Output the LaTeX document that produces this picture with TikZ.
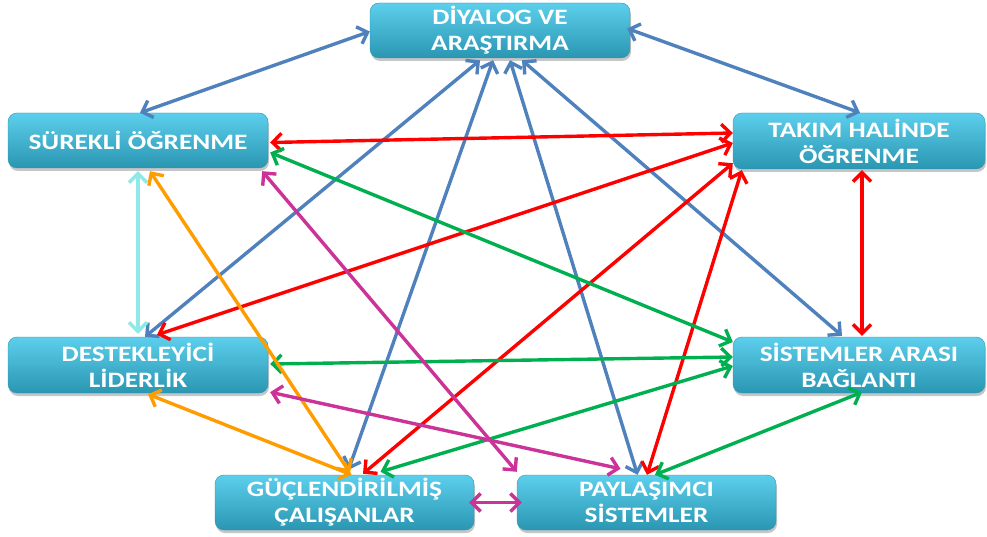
\documentclass[tikz,border=0pt]{standalone}
\usepackage{fontspec}
\setmainfont{Carlito}[FakeStretch=1.24]
\usetikzlibrary{arrows.meta,shadows,calc}
\definecolor{boxtop}{HTML}{5CCFEC}
\definecolor{boxbot}{HTML}{2A96B2}
\definecolor{lnblue}{HTML}{4F81BD}
\definecolor{lnred}{HTML}{FF0000}
\definecolor{lngreen}{HTML}{00B050}
\definecolor{lnorange}{HTML}{FF9C00}
\definecolor{lncyan}{HTML}{8FE9E9}
\definecolor{lnpink}{HTML}{CC3399}

\begin{document}
\begin{tikzpicture}[x=1pt,y=-1pt,
	>={Straight Barb[length=9pt,width=18pt]},
	box/.style={rectangle,rounded corners=9pt,top color=boxtop,bottom color=boxbot,
		draw=boxbot,line width=0.4pt,text=white,align=center,inner sep=0pt,
		minimum width=260pt,minimum height=55pt,
		font=\bfseries\fontsize{22}{26}\selectfont,
		drop shadow={opacity=0.45,shadow xshift=1pt,shadow yshift=-3pt}},
	link/.style={<->,line width=3.4pt}]
	\useasboundingbox (0,0) rectangle (987,537);
	% boxes
	\node (dia) at (500,30.5) [box] {D\.IYALOG VE\\ARAŞTIRMA};
	\node (sur) at (138,140.5) [box] {SÜREKL\.I ÖĞRENME};
	\node (tak) at (859,141) [box,minimum width=252pt,minimum height=56pt] {TAKIM HAL\.INDE\\ÖĞRENME};
	\node (des) at (138,365) [box,minimum height=56pt] {DESTEKLEY\.IC\.I\\L\.IDERL\.IK};
	\node (sis) at (859,365) [box,minimum width=252pt,minimum height=56pt] {S\.ISTEMLER ARASI\\BAĞLANTI};
	\node (guc) at (344.5,502.5) [box,minimum width=259pt] {GÜÇLEND\.IR\.ILM\.IŞ\\ÇALIŞANLAR};
	\node (pay) at (646.5,502.5) [box,minimum width=259pt] {PAYLAŞIMCI\\S\.ISTEMLER};
	% blue
	\draw [link,lnblue] ($(dia.west)+(0,1)$) -- ($(sur.north)+(2,0)$);
	\draw [link,lnblue] ($(dia.east)+(-3,-2)$) -- ($(tak.north)+(1,0)$);
	\draw [link,lnblue] ($(dia.south)+(-20,2)$) -- ($(des.north)+(7,0)$);
	\draw [link,lnblue] ($(dia.south)+(-7,2)$) -- ($(guc.north)+(4,-5)$);
	\draw [link,lnblue] ($(dia.south)+(10,2)$) -- ($(pay.north)+(-9,0)$);
	\draw [link,lnblue] ($(dia.south)+(22,2)$) -- ($(sis.north)+(-17,-1)$);
	% red
	\draw [link,lnred] ($(sur.east)+(2,2)$) -- ($(tak.west)+(0,-8)$);
	\draw [link,lnred] ($(tak.west)+(0,2)$) -- ($(des.north)+(19,-2)$);
	\draw [link,lnred] ($(tak.south west)+(0,-6)$) -- ($(guc.north)+(18.5,-1)$);
	\draw [link,lnred] ($(tak.south west)+(9,1)$) -- ($(pay.north)+(0.5,0)$);
	\draw [link,lnred] ($(tak.south)+(3,1)$) -- ($(sis.north)+(3,-1)$);
	% green
	\draw [link,lngreen] ($(sur.east)+(2,12)$) -- ($(sis.west)+(0,-23)$);
	\draw [link,lngreen] ($(des.east)+(2,-1)$) -- ($(sis.west)+(0,-8)$);
	\draw [link,lngreen] ($(guc.north)+(36,-3)$) -- ($(sis.west)+(0,1)$);
	\draw [link,lngreen] ($(pay.north)+(8.5,0)$) -- ($(sis.south)+(3,-1)$);
	% orange
	\draw [link,lnorange] ($(sur.south)+(12,3)$) -- ($(guc.north)+(5.5,-2)$);
	\draw [link,lnorange] ($(des.south)+(10,1)$) -- ($(guc.north)+(7,0)$);
	% cyan
	\draw [link,lncyan] ($(sur.south)+(0,3)$) -- ($(des.north)+(0,-3)$);
	% pink
	\draw [link,lnpink] ($(sur.south east)+(-6,3)$) -- ($(pay.north west)+(0,-3)$);
	\draw [link,lnpink] ($(des.south east)+(2,-1)$) -- ($(pay.north)+(-26,-6)$);
	\draw [link,lnpink] ($(guc.east)+(-5,0)$) -- ($(pay.west)+(5,0)$);
\end{tikzpicture}
\end{document}
